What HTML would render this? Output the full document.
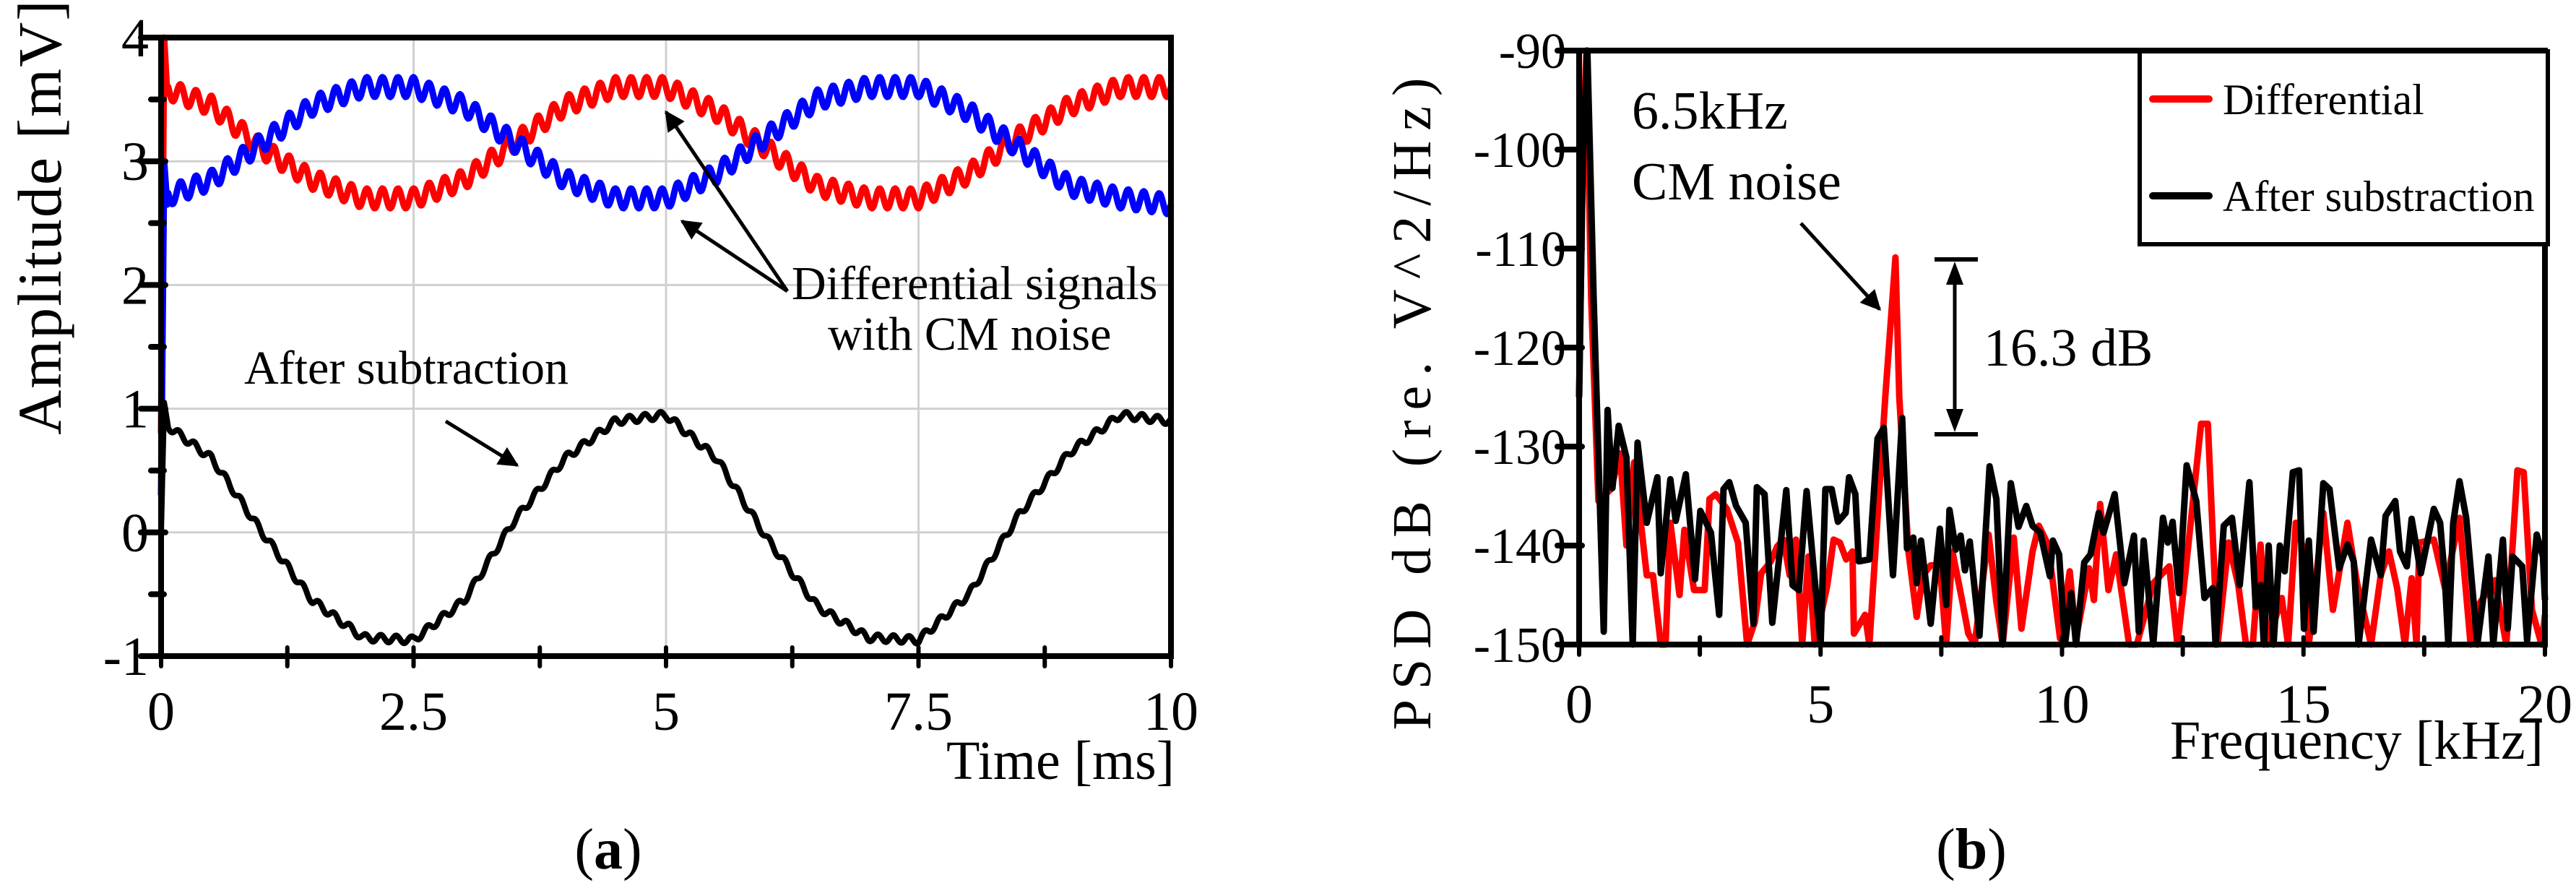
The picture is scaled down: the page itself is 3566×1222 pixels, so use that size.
<!DOCTYPE html>
<html><head><meta charset="utf-8"><style>
html,body{margin:0;padding:0;background:#fff;}
svg{display:block;font-family:"Liberation Serif",serif;}
</style></head><body>
<svg id="fig" width="3566" height="1222" viewBox="0 0 3566 1222" xmlns="http://www.w3.org/2000/svg">
<defs>
<marker id="ah" viewBox="0 0 10 10" refX="9" refY="5" markerWidth="34" markerHeight="28" markerUnits="userSpaceOnUse" orient="auto"><path d="M0,0 L10,5 L0,10 z" fill="#000"/></marker>
</defs>
<g id="chartA"></g>
<g id="chartB"></g>
</svg>
<script>
// ---------- Chart (a) data ----------
const timeBaseT = [0,0.5,1,1.5,2,2.5,3,3.5,4,4.5,5,5.5,6,6.5,7,7.5,8,8.5,9,9.5,10];
const redBase = [3.6,3.45,3.1,2.85,2.7,2.7,2.85,3.15,3.45,3.6,3.6,3.4,3.1,2.8,2.7,2.7,2.9,3.2,3.45,3.6,3.6];
const blueBase = [2.7,2.85,3.15,3.45,3.6,3.6,3.45,3.15,2.85,2.7,2.7,2.9,3.2,3.5,3.6,3.6,3.4,3.1,2.8,2.7,2.65];
const blackBase = [0.9,0.6,0.0,-0.55,-0.85,-0.87,-0.55,0.1,0.6,0.9,0.95,0.6,-0.05,-0.6,-0.85,-0.87,-0.5,0.15,0.65,0.95,0.9];
const startT = [0,0.03,0.06];
const redStart = [0.8,4.0,3.55];
const blueStart = [0.3,3.0,2.65];
const blackStart = [0,1.05,0.9];
const rippleAmp = [0.08,0.08,0.03]; // red, blue, black (mV)
const rippleFreq = 6.5; // kHz
const timeTicks = ["0","2.5","5","7.5","10"];
const ampTicks = ["-1","0","1","2","3","4"];

// ---------- Chart (b) data ----------
const redF = [0,0.08,0.15,0.25,0.4,0.66,0.85,0.98,1.14,1.4,1.53,1.69,1.79,1.89,2.08,2.18,2.38,2.6,2.7,2.83,3.06,3.29,3.48,3.64,3.77,3.97,4.1,4.23,4.36,4.49,4.62,4.75,4.88,5.14,5.27,5.4,5.53,5.66,5.69,5.92,6.01,6.18,6.34,6.55,6.63,6.82,6.99,7.12,7.28,7.47,7.6,7.73,7.93,8.06,8.19,8.48,8.64,8.77,9.0,9.16,9.39,9.52,9.71,9.96,10.16,10.29,10.56,10.66,10.79,10.96,11.12,11.39,11.55,11.89,12.22,12.39,12.58,12.88,13.02,13.22,13.45,13.65,13.81,13.95,14.11,14.25,14.55,14.68,14.84,15.01,15.11,15.41,15.61,15.91,16.11,16.4,16.6,16.77,16.94,17.1,17.24,17.34,17.4,17.7,17.93,18.23,18.46,18.6,18.96,19.2,19.43,19.56,19.73,19.93,20];
const redPsd = [-125,-100,-90,-115,-135.5,-134.3,-130.7,-140,-131.6,-143,-143,-150,-150,-137.7,-145,-138.4,-144.5,-144.5,-135.3,-134.8,-136.3,-139.7,-150,-147.7,-142.8,-141.6,-140.1,-139.4,-143,-139.4,-150,-141.1,-150,-144,-139.4,-139.7,-141.4,-140.6,-148.9,-147,-150,-137.2,-125,-110.9,-125,-140.6,-147.2,-143,-142,-142,-150,-140.6,-145.5,-148.9,-150,-138.9,-145.7,-150,-139.2,-148.4,-140.6,-138,-139.9,-149.4,-142.6,-149.4,-142.3,-145.5,-135.8,-144.5,-140.9,-150,-150,-143.8,-142.1,-150,-141.6,-127.7,-127.7,-150,-139.7,-144,-150,-150,-139.9,-150,-145.3,-150,-137.7,-140.6,-150,-136.7,-146.5,-137.7,-143.8,-150,-143,-140.6,-144.3,-150,-143.3,-150,-139.7,-139.4,-144.3,-137.2,-150,-146.2,-143.5,-150,-132.4,-132.6,-146.5,-150,-147];
const blackF = [0,0.08,0.17,0.3,0.51,0.59,0.69,0.82,0.98,1.11,1.21,1.4,1.62,1.69,1.89,2.0,2.21,2.4,2.51,2.73,2.9,2.99,3.11,3.25,3.45,3.61,3.68,3.84,4.0,4.29,4.42,4.55,4.71,5.0,5.1,5.23,5.36,5.52,5.59,5.72,5.79,6.01,6.18,6.31,6.5,6.69,6.79,6.92,6.99,7.08,7.28,7.47,7.6,7.67,7.8,7.9,7.99,8.09,8.29,8.5,8.64,8.77,8.94,9.1,9.26,9.39,9.55,9.75,9.81,9.94,10.06,10.19,10.29,10.46,10.59,10.76,10.86,11.09,11.29,11.49,11.59,11.69,11.89,12.09,12.19,12.29,12.42,12.58,12.78,12.95,13.12,13.18,13.35,13.52,13.68,13.88,14.01,14.11,14.18,14.28,14.38,14.51,14.61,14.78,14.91,15.01,15.11,15.21,15.41,15.54,15.74,15.91,16.04,16.14,16.4,16.6,16.7,16.9,17.0,17.14,17.24,17.43,17.7,17.83,17.93,18.0,18.1,18.23,18.37,18.6,18.83,18.93,19.13,19.23,19.33,19.53,19.63,19.83,19.96,20];
const blackPsd = [-125,-100,-90,-115,-148.7,-126.3,-134.2,-127.9,-131.1,-150,-129.6,-137.7,-133.1,-142.8,-133.3,-137.5,-132.8,-143.4,-136.5,-138.7,-147,-134.3,-133.6,-136,-137.7,-147.9,-134.1,-134.8,-147.8,-134.4,-144,-144.5,-134.5,-150,-134.3,-134.3,-137.6,-136.7,-133.1,-134.8,-141.6,-141.4,-129.2,-128.1,-143,-127.1,-140.3,-139.2,-143.8,-139.5,-147.9,-138.3,-146,-136.4,-140.4,-139,-142.5,-139.6,-149.1,-132,-135.3,-150,-133.7,-138.1,-136,-138,-138.7,-143.1,-139.5,-140.9,-150,-144.8,-150,-141.7,-140.9,-136.7,-138.7,-134.8,-143.8,-139,-148.7,-139.5,-150,-137.2,-139.7,-137.6,-144.8,-131.9,-135.5,-145.3,-144.3,-150,-138,-137.2,-144,-133.6,-146.2,-144,-150,-140,-150,-140,-142.6,-132.6,-132.4,-148.4,-139.5,-148.7,-133.7,-134.3,-142.3,-139.9,-141.6,-150,-139.4,-143,-137,-135.5,-140.6,-142.1,-137.3,-142.8,-136.3,-137.7,-143.5,-150,-137.7,-133.5,-137.2,-150,-141.1,-150,-139.4,-148.4,-141.1,-142.1,-149.6,-138.9,-141.1,-145.5];
const freqTicks = ["0","5","10","15","20"];
const psdTicks = ["-150","-140","-130","-120","-110","-100","-90"];

const NS = "http://www.w3.org/2000/svg";
function mk(parent, tag, attrs, text){
  const e = document.createElementNS(NS, tag);
  for (const k in attrs) e.setAttribute(k, attrs[k]);
  if (text !== undefined) e.textContent = text;
  parent.appendChild(e);
  return e;
}

// ================= Chart A =================
const A = document.getElementById('chartA');
const ax0 = 223, ax1 = 1621, ay0 = 908, ay1 = 52;
const xA = t => ax0 + (t/10)*(ax1-ax0);
const yA = v => ay0 - (v+1)/5*(ay0-ay1);

for (let i=1;i<4;i++){
  const g = mk(A,'line',{x1:xA(i*2.5),x2:xA(i*2.5),y1:ay1,y2:ay0,stroke:'#d0d0d0','stroke-width':3});
  
  
}
for (let v=0; v<=3; v++){
  const g = mk(A,'line',{x1:ax0,x2:ax1,y1:yA(v),y2:yA(v),stroke:'#d0d0d0','stroke-width':3});
  
  
}

function interp(ts, vs, t){
  for (let i=0;i<ts.length-1;i++){
    if (t<=ts[i+1]){ const f=(t-ts[i])/(ts[i+1]-ts[i]); return vs[i]+f*(vs[i+1]-vs[i]); }
  }
  return vs[vs.length-1];
}
function seriesPath(base, start, amp, phase){
  let d = '';
  for (let i=0;i<startT.length;i++) d += (i?'L':'M') + xA(startT[i]).toFixed(1)+','+yA(start[i]).toFixed(1);
  for (let t=0.07; t<=10.0001; t+=0.01){
    let v = interp(timeBaseT, base, t) + amp*Math.sin(2*Math.PI*rippleFreq*t + phase);
    v = Math.min(4, Math.max(-1, v));
    d += 'L'+xA(t).toFixed(1)+','+yA(v).toFixed(1);
  }
  return d;
}
const sRed = mk(A,'path',{d:seriesPath(redBase,redStart,rippleAmp[0],0),fill:'none',stroke:'#ff0000','stroke-width':9,'stroke-linejoin':'round'});


const sBlue = mk(A,'path',{d:seriesPath(blueBase,blueStart,rippleAmp[1],0),fill:'none',stroke:'#0000ff','stroke-width':9,'stroke-linejoin':'round'});


const sBlack = mk(A,'path',{d:seriesPath(blackBase,blackStart,rippleAmp[2],0.7),fill:'none',stroke:'#000','stroke-width':8,'stroke-linejoin':'round'});



const fA = mk(A,'rect',{x:ax0,y:ay1,width:ax1-ax0,height:ay0-ay1,fill:'none',stroke:'#000','stroke-width':8});


for (let k=0;k<=10;k++){
  const v = -1 + k*0.5, major = (k%2===0);
  const t = mk(A,'line',{x1:ax0-(major?28:14),x2:ax0+(major?6:4),y1:yA(v),y2:yA(v),stroke:'#000','stroke-width':8,'stroke-linecap':'round'});
  
  
}
ampTicks.forEach((s,i)=>{
  const l = mk(A,'text',{x:206,y:yA(parseFloat(s))+26,'text-anchor':'end','font-size':76},s);
  
  
});
for (let k=0;k<=8;k++){
  const t = mk(A,'line',{x1:xA(k*1.25),x2:xA(k*1.25),y1:ay0-12,y2:ay0+14,stroke:'#000','stroke-width':6,'stroke-linecap':'round'});
  
  
}
timeTicks.forEach(s=>{
  const l = mk(A,'text',{x:xA(parseFloat(s)),y:1010,'text-anchor':'middle','font-size':76},s);
  
  
});
let e;
e = mk(A,'text',{x:1626,y:1078,'text-anchor':'end','font-size':76},'Time [ms]');
 
e = mk(A,'text',{x:0,y:0,'text-anchor':'middle','font-size':86,'letter-spacing':2,transform:'translate(84,300) rotate(-90)'},'Amplitude [mV]');
 
e = mk(A,'text',{x:1096,y:414,'font-size':66},'Differential signals');
 
e = mk(A,'text',{x:1146,y:484,'font-size':66},'with CM noise');
 
e = mk(A,'text',{x:338,y:531,'font-size':66},'After subtraction');
 
[[1090,403,922,155],[1090,403,944,306],[617,583,716,644]].forEach(a=>{
  const ar = mk(A,'line',{x1:a[0],y1:a[1],x2:a[2],y2:a[3],stroke:'#000','stroke-width':5,'marker-end':'url(#ah)'});
  
  
});
e = mk(A,'text',{x:842,y:1202,'text-anchor':'middle','font-size':80});
 
mk(e,'tspan',{},'(');
mk(e,'tspan',{'font-weight':'bold'},'a');
mk(e,'tspan',{},')');

// ================= Chart B =================
const B = document.getElementById('chartB');
const bx0 = 2186, bx1 = 3523, by0 = 892, by1 = 70;
const xB = f => bx0 + f/20*(bx1-bx0);
const yB = d => by0 - (d+150)/60*(by0-by1);
function psdPath(fs, ds){
  return fs.map((f,i)=>(i?'L':'M')+xB(f).toFixed(1)+','+yB(ds[i]).toFixed(1)).join('');
}
const pRed = mk(B,'path',{d:psdPath(redF,redPsd),fill:'none',stroke:'#ff0000','stroke-width':9,'stroke-linejoin':'round'});


const pBlack = mk(B,'path',{d:psdPath(blackF,blackPsd),fill:'none',stroke:'#000','stroke-width':9,'stroke-linejoin':'round'});


const fB = mk(B,'rect',{x:bx0,y:by1,width:bx1-bx0,height:by0-by1,fill:'none',stroke:'#000','stroke-width':8});


psdTicks.forEach(s=>{
  const v = parseFloat(s);
  const t = mk(B,'line',{x1:bx0-30,x2:bx0+4,y1:yB(v),y2:yB(v),stroke:'#000','stroke-width':8,'stroke-linecap':'round'});
  
  
  const l = mk(B,'text',{x:2168,y:yB(v)+24,'text-anchor':'end','font-size':70},s);
  
  
});
for (let k=0;k<=8;k++){
  const t = mk(B,'line',{x1:xB(k*2.5),x2:xB(k*2.5),y1:by0-10,y2:by0+14,stroke:'#000','stroke-width':6,'stroke-linecap':'round'});
  
  
}
freqTicks.forEach(s=>{
  const l = mk(B,'text',{x:xB(parseFloat(s)),y:1000,'text-anchor':'middle','font-size':76},s);
  
  
});
e = mk(B,'text',{x:3521,y:1050,'text-anchor':'end','font-size':76},'Frequency [kHz]');
 
e = mk(B,'text',{x:0,y:0,'text-anchor':'middle','font-size':76,'letter-spacing':14,transform:'translate(1980,552) rotate(-90)'},'PSD dB (re. V^2/Hz)');
 
e = mk(B,'text',{x:2259,y:178,'font-size':74},'6.5kHz');
 
e = mk(B,'text',{x:2259,y:276,'font-size':74},'CM noise');
 
e = mk(B,'line',{x1:2493,y1:309,x2:2602,y2:428,stroke:'#000','stroke-width':5,'marker-end':'url(#ah)'});
 
const mg = mk(B,'g',{});
 
mk(mg,'line',{x1:2678,x2:2738,y1:359,y2:359,stroke:'#000','stroke-width':6});
mk(mg,'line',{x1:2678,x2:2738,y1:601,y2:601,stroke:'#000','stroke-width':6});
mk(mg,'line',{x1:2706,x2:2706,y1:385,y2:575,stroke:'#000','stroke-width':5});
mk(mg,'path',{d:'M2706,362 L2694,394 L2718,394 z',fill:'#000'});
mk(mg,'path',{d:'M2706,598 L2694,566 L2718,566 z',fill:'#000'});
e = mk(B,'text',{x:2746,y:506,'font-size':74},'16.3 dB');
 
const lg = mk(B,'g',{});
 
mk(lg,'rect',{x:2962,y:71,width:565,height:267,fill:'#fff',stroke:'#000','stroke-width':6});
e = mk(lg,'line',{x1:2980,x2:3058,y1:137,y2:137,stroke:'#ff0000','stroke-width':10,'stroke-linecap':'round'});
 
e = mk(lg,'text',{x:3077,y:158,'font-size':60},'Differential');
 
e = mk(lg,'line',{x1:2980,x2:3058,y1:271,y2:271,stroke:'#000','stroke-width':10,'stroke-linecap':'round'});
 
e = mk(lg,'text',{x:3077,y:292,'font-size':60},'After substraction');
 
e = mk(B,'text',{x:2729,y:1202,'text-anchor':'middle','font-size':80});
 
mk(e,'tspan',{},'(');
mk(e,'tspan',{'font-weight':'bold'},'b');
mk(e,'tspan',{},')');
</script>
</body></html>
